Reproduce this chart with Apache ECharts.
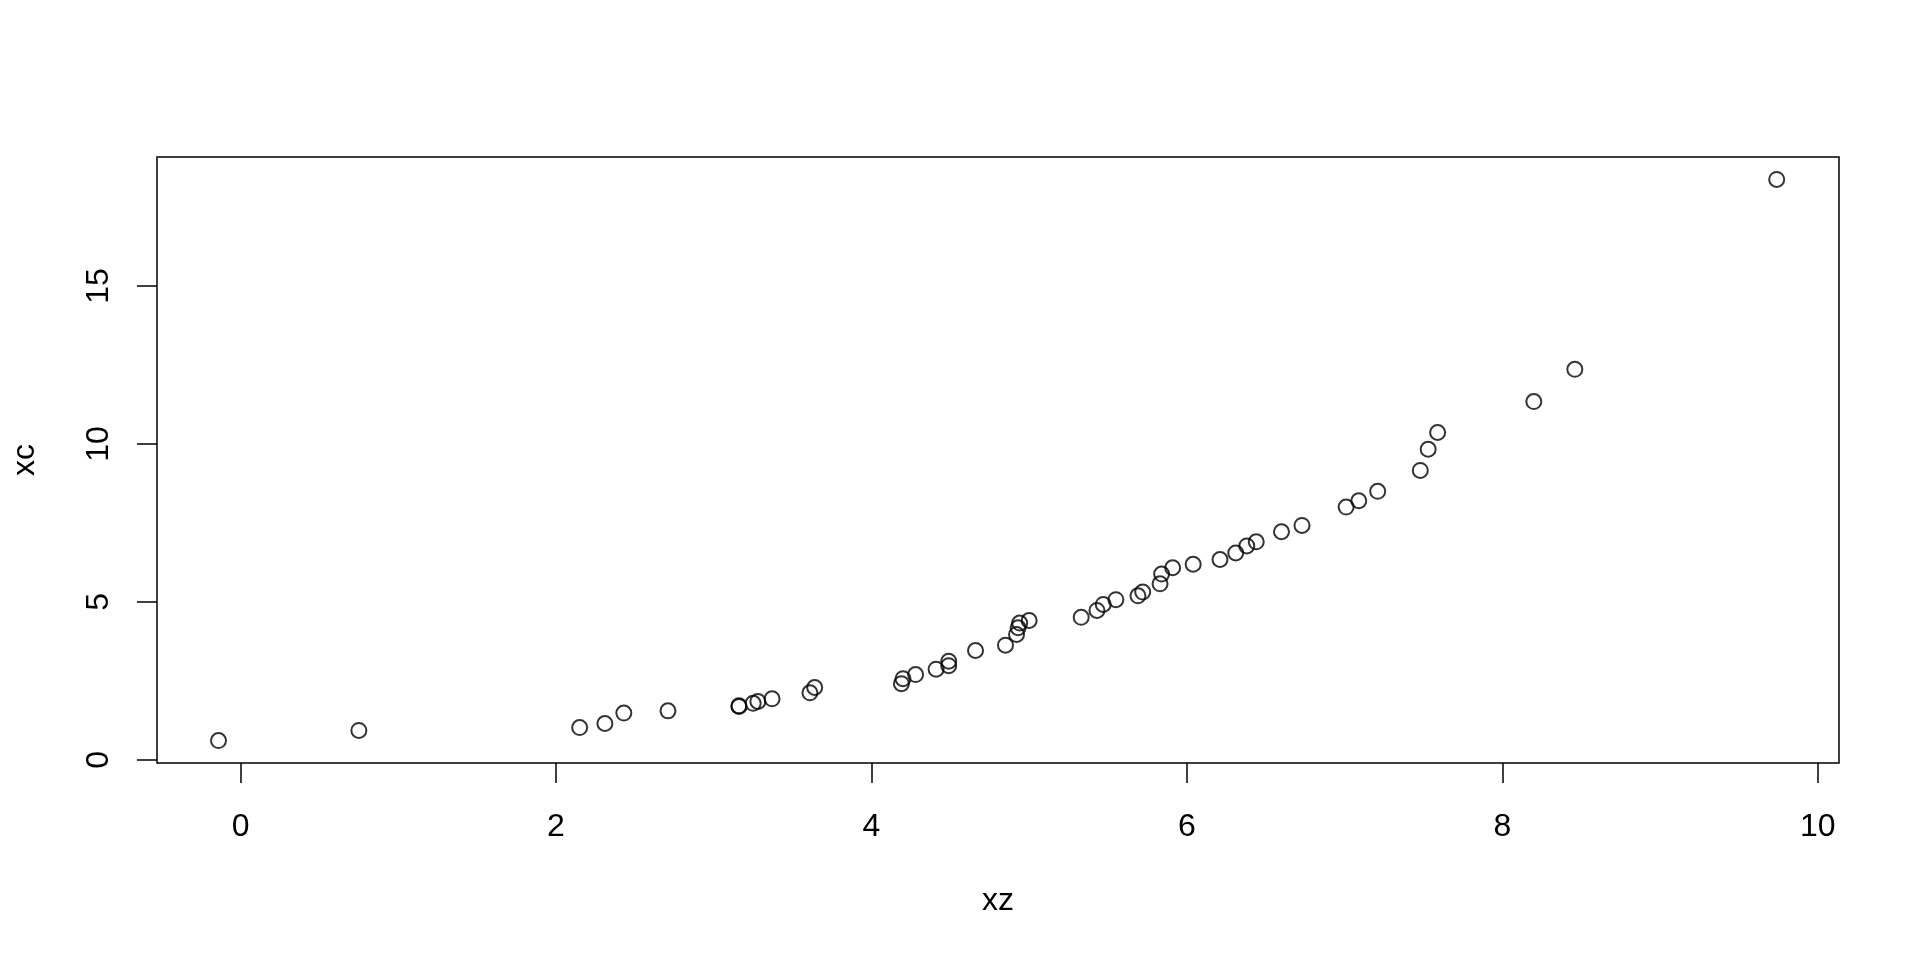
<!DOCTYPE html>
<html>
<head>
<meta charset="utf-8">
<script src="https://cdn.jsdelivr.net/npm/echarts@6/dist/echarts.min.js"></script>
<style>
  html, body { margin: 0; padding: 0; background: #fff; }
  #chart { width: 1920px; height: 960px; }
</style>
</head>
<body>
<div id="chart"></div>
<script>
// values
const xz = [-0.14, 0.75, 2.15, 2.31, 2.43, 2.71, 3.16, 3.16, 3.25, 3.28,
  3.37, 3.61, 3.64, 4.19, 4.20, 4.28, 4.41, 4.49, 4.49, 4.66,
  4.85, 4.92, 4.93, 4.94, 5.00, 5.33, 5.43, 5.47, 5.55, 5.69,
  5.72, 5.83, 5.84, 5.91, 6.04, 6.21, 6.31, 6.38, 6.44, 6.60,
  6.73, 7.01, 7.09, 7.21, 7.48, 7.53, 7.59, 8.20, 8.46, 9.74];
const xc = [0.61, 0.93, 1.02, 1.15, 1.48, 1.55, 1.71, 1.69, 1.79, 1.85,
  1.93, 2.12, 2.29, 2.41, 2.57, 2.70, 2.87, 2.98, 3.12, 3.46,
  3.63, 3.97, 4.18, 4.33, 4.41, 4.51, 4.73, 4.92, 5.07, 5.19,
  5.31, 5.57, 5.88, 6.08, 6.19, 6.34, 6.55, 6.77, 6.90, 7.22,
  7.42, 8.00, 8.20, 8.50, 9.16, 9.83, 10.36, 11.34, 12.36, 18.37];
const xTicks = [0, 2, 4, 6, 8, 10];
const yTicks = [0, 5, 10, 15];

const font = 'Liberation Sans';
const points = xz.map((v, i) => [v, xc[i]]);

let chart = echarts.init(document.getElementById('chart'));
chart.setOption({
  animation: false,
  backgroundColor: '#fff',
  grid: {
    left: 157, right: 81, top: 157, bottom: 197,
    show: true,
    borderColor: '#000',
    borderWidth: 1.5,
    backgroundColor: 'transparent'
  },
  xAxis: {
    type: 'value',
    min: -0.53,
    max: 10.135,
    name: 'xz',
    nameLocation: 'middle',
    nameGap: 122,
    nameTextStyle: { fontFamily: font, fontSize: 32, color: '#000' },
    axisLine: { show: false, onZero: false },
    splitLine: { show: false },
    axisTick: {
      show: true, length: 20, customValues: xTicks,
      lineStyle: { color: '#000', width: 1.5 }
    },
    axisLabel: {
      customValues: xTicks, margin: 48,
      fontFamily: font, fontSize: 32, color: '#000'
    }
  },
  yAxis: {
    type: 'value',
    min: -0.10,
    max: 19.08,
    name: 'xc',
    nameLocation: 'middle',
    nameGap: 116,
    nameRotate: 90,
    nameTextStyle: { fontFamily: font, fontSize: 32, color: '#000' },
    axisLine: { show: false, onZero: false },
    splitLine: { show: false },
    axisTick: {
      show: true, length: 20, customValues: yTicks,
      lineStyle: { color: '#000', width: 1.5 }
    },
    axisLabel: {
      customValues: yTicks, rotate: 90, margin: 42,
      fontFamily: font, fontSize: 32, color: '#000'
    }
  },
  series: [{
    type: 'scatter',
    data: points,
    symbol: 'circle',
    symbolSize: 15,
    itemStyle: { color: 'transparent', borderColor: '#000', borderWidth: 2 }
  }]
});
</script>
</body>
</html>
